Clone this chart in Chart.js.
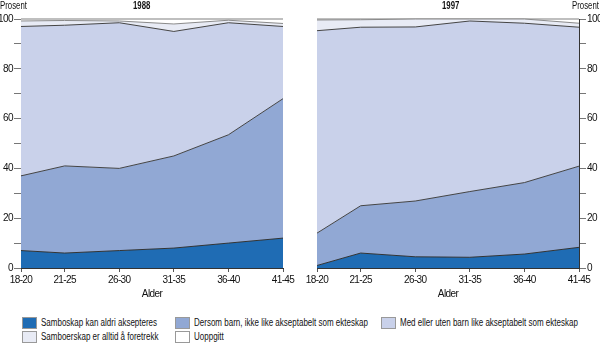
<!DOCTYPE html>
<html>
<head>
<meta charset="utf-8">
<script src="https://cdn.jsdelivr.net/npm/chart.js@4.4.1/dist/chart.umd.min.js"></script>
<style>
  body { margin: 0; background: #fff; }
  #wrap { position: relative; width: 600px; height: 349px; overflow: hidden;
          font-family: 'Liberation Sans', Arial, sans-serif; color: #111; }
  canvas { position: absolute; top: 0; }
  .lbl { position: absolute; font-size: 10px; white-space: nowrap; line-height: 10px; transform: scaleX(0.78); transform-origin: 0 0; }
  .yr { font-weight: bold; }
  .leg { position: absolute; font-size: 10px; white-space: nowrap; line-height: 12px; }
  .leg span { position: absolute; left: 0; top: 0; width: 15px; height: 12px; border: 1px solid #999; box-sizing: border-box; }
  .leg b { font-weight: normal; position: absolute; left: 19px; top: 0; transform: scaleX(0.8); transform-origin: 0 0; }
</style>
</head>
<body>
<div id="wrap">
  <canvas id="chart88" width="300" height="300" style="left:0"></canvas>
  <canvas id="chart97" width="300" height="300" style="left:300px"></canvas>
  <div class="lbl" style="left:0;top:1px">Prosent</div>
  <div class="lbl yr" style="left:133px;top:1px">1988</div>
  <div class="lbl yr" style="left:442px;top:1px">1997</div>
  <div class="lbl" style="left:572px;top:1px">Prosent</div>
</div>
<script>
// age groups, placed on a linear axis at the middle of each group
var ageLabels = ['18-20', '21-25', '26-30', '31-35', '36-40', '41-45'];
var ageMid = [19, 23, 28, 33, 38, 43];

var seriesNames = ['Samboskap kan aldri aksepteres', 'Dersom barn, ikke like akseptabelt som ekteskap',
  'Med eller uten barn like akseptabelt som ekteskap', 'Samboerskap er alltid å foretrekk', 'Uoppgitt'];

// 1988, percent
var aldri88 = [7, 6, 7, 8, 10, 12];
var dersom88 = [30, 35, 33, 37, 43.5, 56];
var medEller88 = [60, 56.5, 58.5, 50, 45, 29];
var sambo88 = [2.2, 1.9, 0.7, 3, 1, 1.2];
var uoppgitt88 = [0.8, 0.6, 0.8, 2, 0.5, 1.8];

// 1997, percent
var aldri97 = [1, 6, 4.5, 4.3, 5.6, 8.3];
var dersom97 = [13, 19, 22.4, 26.4, 28.7, 32.6];
var medEller97 = [81.3, 71.7, 69.9, 68.5, 64, 55.8];
var sambo97 = [4.3, 3, 3.2, 0.8, 1.7, 1.6];
var uoppgitt97 = [0.4, 0.3, 0, 0, 0, 1.7];

var yTicks = [0, 20, 40, 60, 80, 100];

var fills = ['#1f6cb4', '#91a8d4', '#c9d1ea', '#e8ebf5', '#ffffff'];
var lines = ['#333', '#444', '#444', '#8a8a8a', '#aaaaaa'];
var lineWidths = [1, 1, 1, 1, 1.5];

var fontFam = "'Liberation Sans', Arial, sans-serif";

// squeeze canvas text a bit, the original uses a condensed face
var narrowText = {
  id: 'narrowText',
  beforeDraw: function(chart) { chart.ctx.letterSpacing = '-0.6px'; }
};

function makeDatasets(list) {
  var sets = [];
  for (var i = 0; i < list.length; i++) {
    var pts = [];
    for (var j = 0; j < ageMid.length; j++) {
      pts.push({x: ageMid[j], y: list[i][j]});
    }
    sets.push({
      label: seriesNames[i],
      data: pts,
      backgroundColor: fills[i],
      borderColor: lines[i],
      borderWidth: lineWidths[i],
      fill: i == 0 ? 'origin' : '-1',
      pointRadius: 0,
      tension: 0,
      clip: 4
    });
  }
  return sets;
}

function makeChart(id, list, side) {
  var ctx = document.getElementById(id).getContext('2d');
  var pad = side == 'left' ? {top: 19, right: 17, left: 0, bottom: 0} : {top: 19, right: 0, left: 17, bottom: 0};
  return new Chart(ctx, {
    type: 'line',
    data: { datasets: makeDatasets(list) },
    plugins: [narrowText],
    options: {
      responsive: false,
      animation: false,
      layout: { padding: pad },
      plugins: { legend: { display: false }, tooltip: { enabled: false } },
      scales: {
        x: {
          type: 'linear',
          min: 19,
          max: 43,
          afterBuildTicks: function(scale) {
            scale.ticks = ageMid.map(function(v) { return {value: v}; });
          },
          afterFit: function(scale) { scale.height = 32; },
          ticks: {
            autoSkip: false,
            maxRotation: 0,
            padding: 2,
            color: '#111',
            font: { family: fontFam, size: 10 },
            callback: function(v) { return ageLabels[ageMid.indexOf(v)]; }
          },
          grid: { drawOnChartArea: false, tickLength: 4, color: '#555' },
          border: { display: true, color: '#333', width: 1 },
          title: { display: true, text: 'Alder', color: '#111', padding: 0, font: { family: fontFam, size: 10 } }
        },
        y: {
          position: side,
          stacked: true,
          min: 0,
          max: 100,
          afterBuildTicks: function(scale) {
            var t = [];
            for (var v = 0; v <= 100; v += 10) t.push({value: v});
            scale.ticks = t;
          },
          afterFit: function(scale) { scale.width = 21; },
          ticks: {
            padding: 1,
            color: '#111',
            font: { family: fontFam, size: 10 },
            callback: function(v) { return yTicks.indexOf(v) >= 0 ? v : ''; }
          },
          grid: { drawOnChartArea: false, tickLength: 7, color: '#777' },
          border: { display: true, color: '#333', width: 1 }
        }
      }
    }
  });
}

makeChart('chart88', [aldri88, dersom88, medEller88, sambo88, uoppgitt88], 'left');
makeChart('chart97', [aldri97, dersom97, medEller97, sambo97, uoppgitt97], 'right');

// legend below both panels
var legPos = [[22, 317], [175, 317], [381, 317], [22, 331], [175, 331]];
var wrap = document.getElementById('wrap');
for (var k = 0; k < seriesNames.length; k++) {
  var d = document.createElement('div');
  d.className = 'leg';
  d.style.left = legPos[k][0] + 'px';
  d.style.top = legPos[k][1] + 'px';
  d.innerHTML = '<span style="background:' + fills[k] + '"></span><b>' + seriesNames[k] + '</b>';
  wrap.appendChild(d);
}
</script>
</body>
</html>
